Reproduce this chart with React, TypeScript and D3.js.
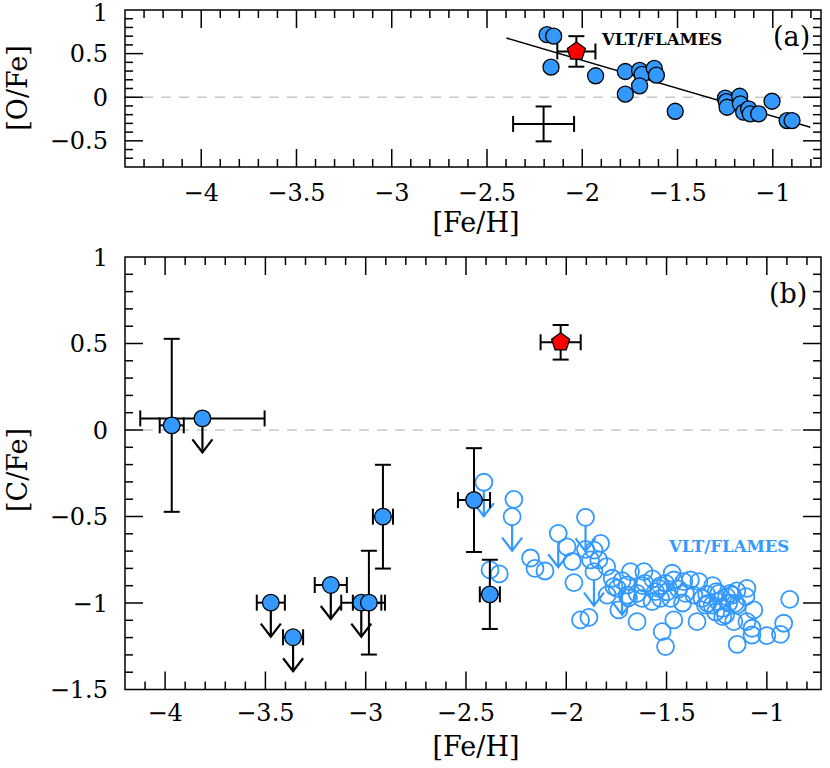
import React from "react";
import * as d3 from "d3";

// ---------- DATA ----------
// Panel (a): [O/Fe] vs [Fe/H], filled blue circles
const oFeH = [-2.185, -2.15, -2.164, -1.93, -1.774, -1.774, -1.699, -1.686, -1.699, -1.622, -1.611, -1.512,
  -1.249, -1.244, -1.240, -1.174, -1.170, -1.153, -1.127, -1.118, -1.074, -1.004, -0.925, -0.899];
const oFe = [0.717, 0.70, 0.345, 0.246, 0.295, 0.035, 0.307, 0.261, 0.131, 0.33, 0.253, -0.161,
  -0.011, -0.05, -0.115, 0.011, -0.076, -0.172, -0.133, -0.19, -0.191, -0.046, -0.268, -0.268];
// red pentagon (a)
const redA = { feh: -2.031, val: 0.525, exFeh: 0.1, eVal: 0.175 };
// typical error cross (a)
const errCross = { feh: -2.203, val: -0.306, exFeh: 0.16, eVal: 0.2 };
// linear fit (a)
const fitFeh = [-2.398, -0.803];
const fitIntercept = 0.678;
const fitSlope = -0.641;

// Panel (b): [C/Fe] vs [Fe/H], filled circles with error bars
const cFeH = [-3.967, -3.814, -3.473, -3.362, -3.174, -3.022, -2.984, -2.914, -2.46, -2.381];
const cFe = [0.027, 0.067, -0.998, -1.198, -0.896, -0.998, -0.998, -0.501, -0.405, -0.95];
const cErrFeh = [0.06, 0.31, 0.07, 0.05, 0.08, 0.1, 0.08, 0.05, 0.08, 0.05];
const cErrVal = [0.5, 0, 0, 0, 0, 0, 0.3, 0.3, 0.3, 0.2];
const cUpper = [false, true, true, true, true, true, false, false, false, false];
// red pentagon (b)
const redB = { feh: -2.028, val: 0.507, exFeh: 0.1, eVal: 0.1 };

// VLT/FLAMES open circles (b)
const vltFeh = [-2.411, -2.38, -2.334, -2.261, -2.270, -2.178, -2.156, -2.106, -2.040, -1.996, -1.970, -1.962,
  -1.929, -1.887, -1.904, -1.904, -1.862, -1.829, -1.879, -1.838, -1.862, -1.799, -1.771, -1.746, -1.796,
  -1.738, -1.763, -1.680, -1.613, -1.696, -1.696, -1.722, -1.647, -1.622, -1.572, -1.647, -1.608, -1.555,
  -1.539, -1.505, -1.472, -1.464, -1.497, -1.530, -1.480, -1.522, -1.505, -1.464, -1.414, -1.381, -1.339,
  -1.406, -1.364, -1.323, -1.306, -1.348, -1.294, -1.252, -1.243, -1.255, -1.22, -1.240, -1.273, -1.223,
  -1.206, -1.173, -1.148, -1.165, -1.2, -1.183, -1.158, -1.099, -1.104, -1.065, -1.099, -1.074, -1.074,
  -1.148, -1.0, -0.932, -0.916, -0.886, -1.57, -1.44, -1.42, -1.30, -1.53, -1.62, -1.69, -1.27, -1.19, -1.15];
const vltC = [-0.302, -0.809, -0.832, -0.401, -0.501, -0.740, -0.80, -0.815, -0.597, -0.676, -0.76, -0.882,
  -1.098, -1.083, -0.505, -0.69, -0.694, -0.655, -0.751, -0.751, -0.819, -0.79, -0.857, -0.915, -0.954,
  -1.040, -0.905, -0.819, -0.819, -0.896, -0.954, -0.871, -0.944, -0.973, -0.992, -1.108, -0.886, -0.934,
  -0.915, -0.886, -0.828, -0.867, -0.935, -0.973, -0.973, -1.166, -1.252, -1.098, -0.877, -0.867, -0.877,
  -0.944, -0.954, -0.973, -1.012, -1.108, -1.002, -0.934, -0.992, -1.052, -1.079, -0.944, -1.012, -1.031,
  -1.069, -0.954, -1.012, -1.108, -0.963, -0.944, -1.002, -0.915, -0.963, -1.040, -1.108, -1.146, -1.185,
  -1.239, -1.189, -1.181, -1.117, -0.979, -0.86, -0.92, -1.0, -0.95, -0.90, -0.90, -0.97, -0.90, -1.0, -0.93];
const vltUpperIdx = [0, 4, 8, 14, 20, 31];

// axis ticks
const xMajor = [-4, -3.5, -3, -2.5, -2, -1.5, -1];
const xLabels = ["−4", "−3.5", "−3", "−2.5", "−2", "−1.5", "−1"];
const yMajorA = [1, 0.5, 0, -0.5];
const yLabelsA = ["1", "0.5", "0", "−0.5"];
const yMajorB = [1, 0.5, 0, -0.5, -1, -1.5];
const yLabelsB = ["1", "0.5", "0", "−0.5", "−1", "−1.5"];

// ---------- LAYOUT ----------
const W = 830, H = 768;
const L = 125, R = 821;
const aTop = 10, aBot = 167;
const bTop = 257, bBot = 689.5;
const BLUE = "#3399ff";
const FONT = "DejaVu Serif";

const xA = d3.scaleLinear().domain([-4.4, -0.747]).range([L, R]);
const yA = d3.scaleLinear().domain([-0.8, 1]).range([aBot, aTop]);
const xB = d3.scaleLinear().domain([-4.2, -0.73]).range([L, R]);
const yB = d3.scaleLinear().domain([-1.5, 1]).range([bBot, bTop]);

function minorRange(lo: number, hi: number) {
  const out: number[] = [];
  for (let k = Math.ceil(lo * 10 - 1e-6); k <= Math.floor(hi * 10 + 1e-6); k++) out.push(k / 10);
  return out;
}
function isMajor(v: number) {
  return Math.abs(v * 2 - Math.round(v * 2)) < 1e-6;
}

function Frame({ x, y }: { x: d3.ScaleLinear<number, number>; y: d3.ScaleLinear<number, number> }) {
  const [x0, x1] = x.range();
  const [y0, y1] = y.range(); // y0 bottom, y1 top
  const xd = x.domain();
  const yd = y.domain();
  const ticks: JSX.Element[] = [];
  minorRange(xd[0], xd[1]).forEach((v, i) => {
    const len = isMajor(v) ? 18 : 8;
    const px = x(v);
    if (px <= x0 + 0.5 || px >= x1 - 0.5) return;
    ticks.push(<line key={"xb" + i} x1={px} x2={px} y1={y0} y2={y0 - len} />);
    ticks.push(<line key={"xt" + i} x1={px} x2={px} y1={y1} y2={y1 + len} />);
  });
  minorRange(yd[0], yd[1]).forEach((v, i) => {
    const len = isMajor(v) ? 18 : 8;
    const py = y(v);
    if (py >= y0 - 0.5 || py <= y1 + 0.5) return;
    ticks.push(<line key={"yl" + i} x1={x0} x2={x0 + len} y1={py} y2={py} />);
    ticks.push(<line key={"yr" + i} x1={x1} x2={x1 - len} y1={py} y2={py} />);
  });
  return (
    <g stroke="#000" strokeWidth={1.5} fill="none">
      {ticks}
      <rect x={x0} y={y1} width={x1 - x0} height={y0 - y1} />
    </g>
  );
}

function ErrBar({ cx, cy, x1, x2, y1, y2, color = "#000" }: any) {
  const c = 8;
  return (
    <g stroke={color} strokeWidth={2} fill="none">
      {x1 !== x2 && (
        <>
          <line x1={x1} x2={x2} y1={cy} y2={cy} />
          <line x1={x1} x2={x1} y1={cy - c} y2={cy + c} />
          <line x1={x2} x2={x2} y1={cy - c} y2={cy + c} />
        </>
      )}
      {y1 !== y2 && (
        <>
          <line x1={cx} x2={cx} y1={y1} y2={y2} />
          <line x1={cx - c} x2={cx + c} y1={y1} y2={y1} />
          <line x1={cx - c} x2={cx + c} y1={y2} y2={y2} />
        </>
      )}
    </g>
  );
}

function Arrow({ cx, cy, color }: { cx: number; cy: number; color: string }) {
  return (
    <g stroke={color} strokeWidth={2.2} fill="none">
      <line x1={cx} x2={cx} y1={cy} y2={cy + 26} />
      <polyline points={`${cx - 10},${cy + 13} ${cx},${cy + 26} ${cx + 10},${cy + 13}`} />
    </g>
  );
}

function pentagon(cx: number, cy: number, r: number) {
  const pts = d3.range(5).map((i) => {
    const a = -Math.PI / 2 + (i * 2 * Math.PI) / 5;
    return [cx + r * Math.cos(a), cy + r * Math.sin(a)];
  });
  return "M" + pts.map((p) => p.join(",")).join("L") + "Z";
}

function XLabels({ x, yBase }: { x: d3.ScaleLinear<number, number>; yBase: number }) {
  return (
    <g fontFamily={FONT} fontSize={24} textAnchor="middle">
      {xMajor.map((v, i) => (
        <text key={i} x={x(v)} y={yBase}>{xLabels[i]}</text>
      ))}
    </g>
  );
}
function YLabels({ y, vals, labels }: { y: d3.ScaleLinear<number, number>; vals: number[]; labels: string[] }) {
  return (
    <g fontFamily={FONT} fontSize={24} textAnchor="end">
      {vals.map((v, i) => (
        <text key={i} x={108} y={Math.max(y(v) + 8.5, 21)}>{labels[i]}</text>
      ))}
    </g>
  );
}

export default function App() {
  const fitLine = d3.line<number>().x((v) => xA(v)).y((v) => yA(fitIntercept + fitSlope * (v - fitFeh[0])));
  return (
    <svg width={W} height={H} style={{ position: "absolute", left: 0, top: 0, background: "#fff" }}>
      {/* ---------- Panel (a) ---------- */}
      <line x1={L} x2={R} y1={yA(0)} y2={yA(0)} stroke="#c8c8c8" strokeWidth={1.5} strokeDasharray="10,8" />
      <path d={fitLine(fitFeh) || ""} stroke="#000" strokeWidth={1.5} fill="none" />
      {oFeH.map((v, i) => (
        <circle key={i} cx={xA(v)} cy={yA(oFe[i])} r={8} fill={BLUE} stroke="#000" strokeWidth={1.3} />
      ))}
      <ErrBar cx={xA(redA.feh)} cy={yA(redA.val)} x1={xA(redA.feh - redA.exFeh)} x2={xA(redA.feh + redA.exFeh)}
        y1={yA(redA.val + redA.eVal)} y2={yA(redA.val - redA.eVal)} />
      <path d={pentagon(xA(redA.feh), yA(redA.val), 9.5)} fill="#ff0000" stroke="#000" strokeWidth={1.3} />
      <ErrBar cx={xA(errCross.feh)} cy={yA(errCross.val)} x1={xA(errCross.feh - errCross.exFeh)}
        x2={xA(errCross.feh + errCross.exFeh)} y1={yA(errCross.val + errCross.eVal)} y2={yA(errCross.val - errCross.eVal)} />
      <Frame x={xA} y={yA} />
      <text x={602} y={45} fontFamily={FONT} fontWeight="bold" fontSize={16.5}>VLT/FLAMES</text>
      <text x={773} y={46} fontFamily={FONT} fontSize={27}>(a)</text>
      <XLabels x={xA} yBase={201} />
      <YLabels y={yA} vals={yMajorA} labels={yLabelsA} />
      <text x={476} y={232} fontFamily={FONT} fontSize={27} textAnchor="middle">[Fe/H]</text>
      <text transform={`translate(27,88) rotate(-90)`} fontFamily={FONT} fontSize={27} textAnchor="middle">[O/Fe]</text>

      {/* ---------- Panel (b) ---------- */}
      <line x1={L} x2={R} y1={yB(0)} y2={yB(0)} stroke="#c8c8c8" strokeWidth={1.5} strokeDasharray="10,8" />
      {vltFeh.map((v, i) => (
        <circle key={i} cx={xB(v)} cy={yB(vltC[i])} r={8.5} fill="none" stroke={BLUE} strokeWidth={1.8} />
      ))}
      {vltUpperIdx.map((i) => (
        <Arrow key={i} cx={xB(vltFeh[i])} cy={yB(vltC[i]) + 8} color={BLUE} />
      ))}
      {cFeH.map((v, i) => (
        <g key={i}>
          <ErrBar cx={xB(v)} cy={yB(cFe[i])} x1={xB(v - cErrFeh[i])} x2={xB(v + cErrFeh[i])}
            y1={yB(cFe[i] + cErrVal[i])} y2={yB(cFe[i] - cErrVal[i])} />
          {cUpper[i] && <Arrow cx={xB(v)} cy={yB(cFe[i]) + 8} color="#000" />}
        </g>
      ))}
      {cFeH.map((v, i) => (
        <circle key={"c" + i} cx={xB(v)} cy={yB(cFe[i])} r={8.3} fill={BLUE} stroke="#000" strokeWidth={1.3} />
      ))}
      <ErrBar cx={xB(redB.feh)} cy={yB(redB.val)} x1={xB(redB.feh - redB.exFeh)} x2={xB(redB.feh + redB.exFeh)}
        y1={yB(redB.val + redB.eVal)} y2={yB(redB.val - redB.eVal)} />
      <path d={pentagon(xB(redB.feh), yB(redB.val), 9.5)} fill="#ff0000" stroke="#000" strokeWidth={1.3} />
      <Frame x={xB} y={yB} />
      <text x={669} y={552} fontFamily={FONT} fontWeight="bold" fontSize={16.5} fill={BLUE}>VLT/FLAMES</text>
      <text x={769} y={303} fontFamily={FONT} fontSize={27}>(b)</text>
      <XLabels x={xB} yBase={721} />
      <YLabels y={yB} vals={yMajorB} labels={yLabelsB} />
      <text x={476} y={756} fontFamily={FONT} fontSize={27} textAnchor="middle">[Fe/H]</text>
      <text transform={`translate(27,470) rotate(-90)`} fontFamily={FONT} fontSize={27} textAnchor="middle">[C/Fe]</text>
    </svg>
  );
}
